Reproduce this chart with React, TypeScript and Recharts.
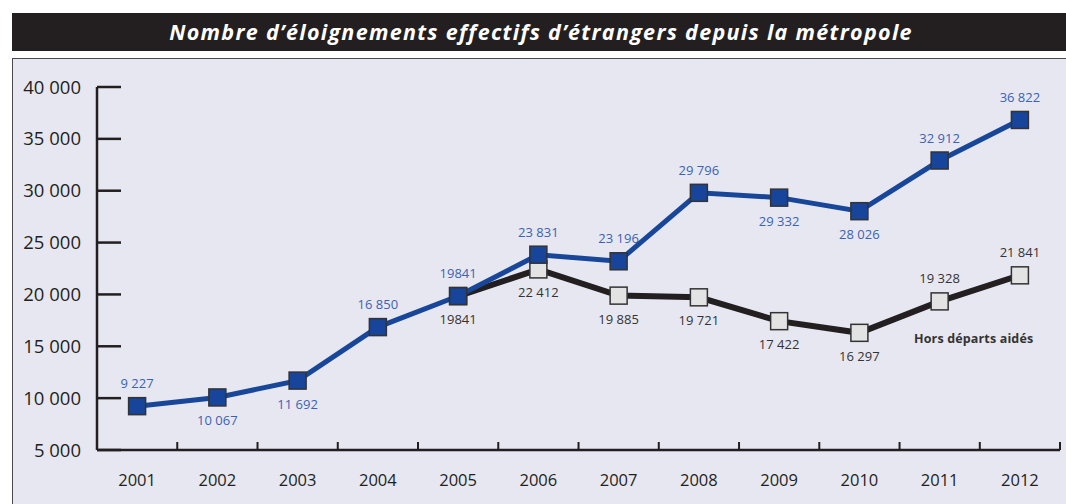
import { LineChart, Line, XAxis, YAxis, LabelList } from "recharts";

const years = ["2001", "2002", "2003", "2004", "2005", "2006", "2007", "2008", "2009", "2010", "2011", "2012"];
const totalValues = [9227, 10067, 11692, 16850, 19841, 23831, 23196, 29796, 29332, 28026, 32912, 36822];
const totalLabels = ["9 227", "10 067", "11 692", "16 850", "19841", "23 831", "23 196", "29 796", "29 332", "28 026", "32 912", "36 822"];
const totalBelow = [false, true, true, false, false, false, false, false, true, true, false, false];
const horsValues = [null, null, null, null, 19841, 22412, 19885, 19721, 17422, 16297, 19328, 21841];
const horsLabels = ["", "", "", "", "19841", "22 412", "19 885", "19 721", "17 422", "16 297", "19 328", "21 841"];
const horsBelow = [false, false, false, false, true, true, true, true, true, true, false, false];
const yTicks = [5000, 10000, 15000, 20000, 25000, 30000, 35000, 40000];
const yTickLabels = ["5 000", "10 000", "15 000", "20 000", "25 000", "30 000", "35 000", "40 000"];

const data = years.map((year, i) => ({ year, total: totalValues[i], hors: horsValues[i] }));

const FONT = "'Open Sans', sans-serif";
const INK = "#231f20";
const BLUE = "#184799";
const LABEL_BLUE = "#3a63b3";
const HALF_BAND = 40.1;

const square = (fill: string) => (props: any) => {
  const { cx, cy, index } = props;
  if (cx == null || cy == null || props.value == null) return <g key={index} />;
  return (
    <rect key={index} x={cx - 8.5} y={cy - 8.5} width={17} height={17} fill={fill} stroke="#333" strokeWidth={1.5} />
  );
};

const makeLabel = (texts: string[], below: boolean[], color: string) => (props: any) => {
  const { x, y, index, value } = props;
  if (value == null || x == null || y == null) return null;
  return (
    <text key={index} x={x} y={below[index] ? y + 28 : y - 18} textAnchor="middle" fontFamily={FONT} fontSize={13} fill={color}>
      {texts[index]}
    </text>
  );
};

const YTick = (props: any) => {
  const { x, y, index } = props;
  return (
    <g>
      <line x1={x} x2={x + 24} y1={y} y2={y} stroke={INK} strokeWidth={2.5} />
      <text x={x - 16} y={y + 6.5} textAnchor="end" fontFamily={FONT} fontSize={18.5} fill={INK}>
        {yTickLabels[index]}
      </text>
    </g>
  );
};

const XTick = (props: any) => {
  const { x, y, index, payload } = props;
  return (
    <g>
      <line x1={x - HALF_BAND} x2={x - HALF_BAND} y1={y} y2={y - 8} stroke={INK} strokeWidth={2} />
      {index === years.length - 1 && (
        <line x1={x + HALF_BAND} x2={x + HALF_BAND} y1={y} y2={y - 8} stroke={INK} strokeWidth={2} />
      )}
      <text x={x} y={y + 36} textAnchor="middle" fontFamily={FONT} fontSize={16.5} fill={INK}>
        {payload.value}
      </text>
    </g>
  );
};

export default function App() {
  return (
    <div style={{ position: "absolute", left: 0, top: 0, width: 1066, height: 504, overflow: "hidden", background: "#fff" }}>
      {/* title bar */}
      <div
        style={{
          position: "absolute", left: 12, top: 13, width: 1070, height: 38, background: INK, color: "#fff",
          fontFamily: FONT, fontWeight: 700, fontStyle: "italic", fontSize: 21.5, lineHeight: "38px",
          letterSpacing: 1.3,
        }}
      >
        <span style={{ position: "absolute", left: 0, width: 1058, textAlign: "center" }}>
          Nombre d’éloignements effectifs d’étrangers depuis la métropole
        </span>
      </div>
      {/* panel */}
      <div
        style={{
          position: "absolute", left: 12, top: 58, width: 1070, height: 460, background: "#e7e7f1",
          borderLeft: "1.5px solid #4a4a4a", borderTop: "1.5px solid #4a4a4a",
        }}
      />
      <div style={{ position: "absolute", left: 0, top: 0 }}>
        <LineChart width={1066} height={504} data={data} margin={{ top: 87, right: 6, bottom: 0, left: 0 }}>
          <XAxis
            dataKey="year"
            height={54}
            padding={{ left: HALF_BAND, right: HALF_BAND }}
            tick={<XTick />}
            tickLine={false}
            tickSize={0}
            tickMargin={0}
            interval={0}
            axisLine={{ stroke: INK, strokeWidth: 2.5 }}
          />
          <YAxis
            width={97}
            domain={[5000, 40000]}
            ticks={yTicks}
            type="number"
            tick={<YTick />}
            tickLine={false}
            tickSize={0}
            tickMargin={0}
            axisLine={{ stroke: INK, strokeWidth: 2.5 }}
          />
          <Line
            dataKey="hors"
            stroke={INK}
            strokeWidth={6}
            dot={square("#e3e3e3")}
            activeDot={false}
            isAnimationActive={false}
          >
            <LabelList dataKey="hors" content={makeLabel(horsLabels, horsBelow, "#333")} />
          </Line>
          <Line
            dataKey="total"
            stroke={BLUE}
            strokeWidth={5}
            dot={square("#17459b")}
            activeDot={false}
            isAnimationActive={false}
          >
            <LabelList dataKey="total" content={makeLabel(totalLabels, totalBelow, LABEL_BLUE)} />
          </Line>
        </LineChart>
      </div>
      <div
        style={{
          position: "absolute", left: 914, top: 331, fontFamily: FONT, fontWeight: 700, fontSize: 12.5,
          color: "#333", whiteSpace: "nowrap", lineHeight: "16px", letterSpacing: 0.15,
        }}
      >
        Hors départs aidés
      </div>
    </div>
  );
}
